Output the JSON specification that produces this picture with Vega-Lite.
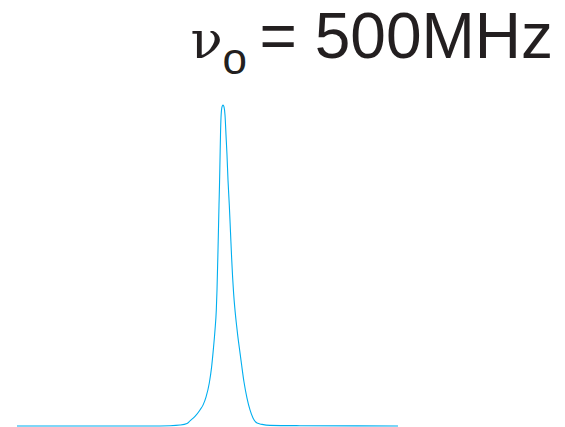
{
  "$schema": "https://vega.github.io/schema/vega-lite/v6.json",
  "width": 565,
  "height": 427,
  "padding": 0,
  "autosize": {"type": "none"},
  "background": "white",
  "config": {"view": {"stroke": null}},
  "title": {
    "text": "= 500MHz",
    "anchor": "end",
    "frame": "group",
    "orient": "bottom",
    "font": "Liberation Sans",
    "fontSize": 64,
    "fontWeight": "normal",
    "color": "#231f20",
    "baseline": "alphabetic",
    "offset": 0,
    "dx": -12,
    "dy": -370
  },
  "data": {
    "values": [
      {"offset": -206, "signal": 0},
      {"offset": -73, "signal": 0},
      {"offset": -53, "signal": 0.001},
      {"offset": -43, "signal": 0.003},
      {"offset": -36, "signal": 0.008},
      {"offset": -33, "signal": 0.016},
      {"offset": -28, "signal": 0.03},
      {"offset": -23, "signal": 0.05},
      {"offset": -20, "signal": 0.065},
      {"offset": -17, "signal": 0.09},
      {"offset": -13.7, "signal": 0.134},
      {"offset": -11.5, "signal": 0.181},
      {"offset": -9.7, "signal": 0.237},
      {"offset": -8, "signal": 0.299},
      {"offset": -6.7, "signal": 0.361},
      {"offset": -6, "signal": 0.424},
      {"offset": -5, "signal": 0.548},
      {"offset": -4, "signal": 0.688},
      {"offset": -3.5, "signal": 0.751},
      {"offset": -3, "signal": 0.829},
      {"offset": -2.5, "signal": 0.907},
      {"offset": -2, "signal": 0.96},
      {"offset": -1, "signal": 0.994},
      {"offset": 0, "signal": 1},
      {"offset": 1, "signal": 0.994},
      {"offset": 2, "signal": 0.969},
      {"offset": 3, "signal": 0.907},
      {"offset": 4, "signal": 0.844},
      {"offset": 5, "signal": 0.766},
      {"offset": 6.3, "signal": 0.688},
      {"offset": 7.5, "signal": 0.604},
      {"offset": 8.6, "signal": 0.526},
      {"offset": 9.6, "signal": 0.464},
      {"offset": 10.6, "signal": 0.414},
      {"offset": 11.8, "signal": 0.368},
      {"offset": 13.2, "signal": 0.324},
      {"offset": 14.8, "signal": 0.28},
      {"offset": 16.5, "signal": 0.24},
      {"offset": 18.5, "signal": 0.193},
      {"offset": 21, "signal": 0.137},
      {"offset": 24, "signal": 0.087},
      {"offset": 27, "signal": 0.05},
      {"offset": 30, "signal": 0.025},
      {"offset": 34, "signal": 0.009},
      {"offset": 39, "signal": 0.005},
      {"offset": 47, "signal": 0.002},
      {"offset": 77, "signal": 0.001},
      {"offset": 175, "signal": 0}
    ]
  },
  "mark": {"type": "line", "color": "#00aeef", "strokeWidth": 1.1, "interpolate": "monotone", "clip": false},
  "encoding": {
    "x": {
      "field": "offset",
      "type": "quantitative",
      "scale": {"domain": [-223, 342], "nice": false, "zero": false},
      "axis": {
        "orient": "top",
        "title": "ν",
        "titleFont": "DejaVu Serif",
        "titleFontSize": 53,
        "titleFontWeight": "normal",
        "titleColor": "#231f20",
        "titleAlign": "left",
        "titleBaseline": "alphabetic",
        "titleX": 190,
        "titleY": 57,
        "domain": false,
        "ticks": false,
        "labels": false,
        "grid": false
      }
    },
    "y": {
      "field": "signal",
      "type": "quantitative",
      "scale": {"domain": [-0.00312, 1.3271], "nice": false, "zero": false},
      "axis": {
        "orient": "left",
        "title": "o",
        "titleFont": "Liberation Sans",
        "titleFontSize": 44,
        "titleFontWeight": "normal",
        "titleColor": "#231f20",
        "titleAngle": 0,
        "titleAlign": "left",
        "titleBaseline": "alphabetic",
        "titleX": 222,
        "titleY": 73,
        "domain": false,
        "ticks": false,
        "labels": false,
        "grid": false
      }
    }
  }
}
